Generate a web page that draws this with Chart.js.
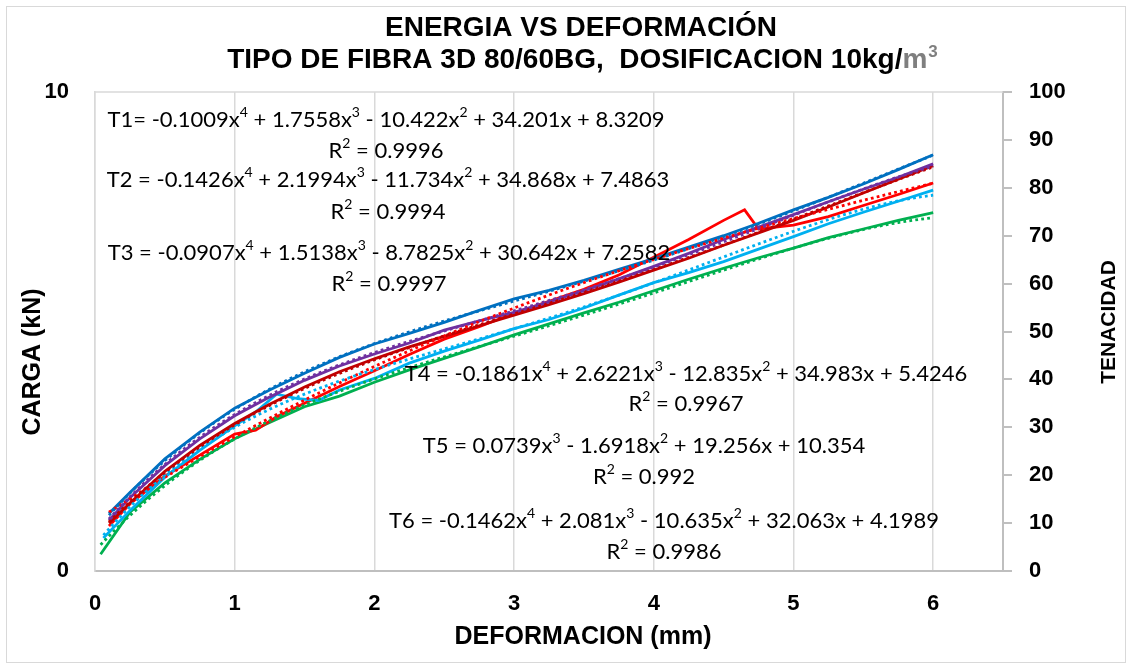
<!DOCTYPE html>
<html><head><meta charset="utf-8">
<script src="https://cdn.jsdelivr.net/npm/chart.js@4/dist/chart.umd.min.js"></script>
<style>html,body{margin:0;padding:0;background:#fff}</style>
</head><body>
<canvas id="c" width="1132" height="669"></canvas>
<script>
// ---- data ----
const seriesNames = ['T1','T2','T3','T4','T5','T6'];
const xT1 = [0.1,0.25,0.5,0.75,1,1.25,1.5,1.75,2,2.25,2.5,2.75,3,3.25,3.5,3.75,4,4.25,4.5,4.75,5,5.25,5.5,5.75,6];
const yT1 = [12.0,16.4,23.4,29.0,34.0,37.8,41.3,44.6,47.4,49.6,51.9,54.4,56.8,58.6,60.7,63.0,65.2,67.6,70.0,72.6,75.4,78.0,80.8,83.8,86.9];
const xT2 = [0.1,0.25,0.5,0.75,1,1.25,1.5,1.75,2,2.25,2.5,2.75,3,3.25,3.5,3.75,4,4.25,4.5,4.75,5,5.25,5.5,5.75,6];
const yT2 = [10.6,15.3,22.0,27.6,32.4,36.3,39.8,42.8,45.3,47.6,50.3,52.2,54.0,56.2,58.5,61.0,63.6,66.3,69.2,71.8,74.4,77.1,79.7,82.2,85.0];
const xT3 = [0.1,0.25,0.5,0.75,1,1.25,1.5,1.75,2,2.25,2.5,2.75,3,3.25,3.5,3.75,4,4.25,4.5,4.75,5,5.25,5.5,5.75,6];
const yT3 = [10.0,14.2,20.8,26.2,30.8,34.8,38.4,41.6,44.3,46.8,49.0,51.2,53.4,55.6,57.9,60.3,62.8,65.3,68.0,70.6,73.2,76.0,78.9,81.8,84.6];
const xT4 = [0.06,0.25,0.5,0.75,1,1.15,1.3,1.45,1.6,1.75,2,2.25,2.5,2.75,3,3.25,3.5,3.75,4,4.25,4.5,4.75,5,5.25,5.5,5.75,6];
const yT4 = [6.9,12.6,19.6,25.2,30.3,33.2,36.9,36.0,35.6,37.8,40.2,43.4,45.9,48.2,50.6,52.5,54.9,57.6,60.2,62.3,64.6,67.2,69.8,72.5,74.9,77.2,79.5];
const xT5 = [0.1,0.25,0.5,0.75,1,1.15,1.3,1.5,1.75,2,2.25,2.5,2.75,3,3.25,3.5,3.75,4,4.25,4.5,4.65,4.75,5,5.25,5.5,5.75,6];
const yT5 = [9.4,14.0,19.8,24.2,28.6,29.4,32.2,35.0,38.5,41.8,45.2,48.4,51.0,53.8,56.3,58.8,61.8,65.5,69.2,73.2,75.4,71.4,72.2,74.0,76.3,78.6,81.0];
const xT6 = [0.04,0.25,0.5,0.75,1,1.25,1.5,1.75,2,2.25,2.5,2.75,3,3.25,3.5,3.75,4,4.25,4.5,4.75,5,5.25,5.5,5.75,6];
const yT6 = [3.5,12.3,18.4,23.3,27.6,31.0,34.3,36.5,39.4,42.0,44.4,46.8,49.3,51.6,53.9,56.1,58.5,60.9,63.2,65.4,67.4,69.6,71.4,73.2,74.8];
// trendline coefficients as printed (constant, x, x^2, x^3, x^4)
const coefT1 = [8.3209, 34.201, -10.422, 1.7558, -0.1009];
const coefT2 = [7.4863, 34.868, -11.734, 2.1994, -0.1426];
const coefT3 = [7.2582, 30.642, -8.7825, 1.5138, -0.0907];
const coefT4 = [5.4246, 34.983, -12.835, 2.6221, -0.1861];
const coefT5 = [10.354, 19.256, -1.6918, 0.0739, 0];
const coefT6 = [4.1989, 32.063, -10.635, 2.081, -0.1462];
const eqTexts = [
  ['T1= -0.1009x⁴ + 1.7558x³ - 10.422x² + 34.201x + 8.3209','R² = 0.9996'],
  ['T2 = -0.1426x⁴ + 2.1994x³ - 11.734x² + 34.868x + 7.4863','R² = 0.9994'],
  ['T3 = -0.0907x⁴ + 1.5138x³ - 8.7825x² + 30.642x + 7.2582','R² = 0.9997'],
  ['T4 = -0.1861x⁴ + 2.6221x³ - 12.835x² + 34.983x + 5.4246','R² = 0.9967'],
  ['T5 = 0.0739x³ - 1.6918x² + 19.256x + 10.354','R² = 0.992'],
  ['T6 = -0.1462x⁴ + 2.081x³ - 10.635x² + 32.063x + 4.1989','R² = 0.9986']
];
const xTicks = [0,1,2,3,4,5,6];
const xValues = [xT1,xT2,xT3,xT4,xT5,xT6];
const yValues = [yT1,yT2,yT3,yT4,yT5,yT6];
const coefs = [coefT1,coefT2,coefT3,coefT4,coefT5,coefT6];
const colors = ['#0070C0','#7030A0','#C00000','#00B0F0','#FF0000','#00B050'];

// ---- build datasets ----
const datasets = [];
function poly(c, x){ let s=0; for(let i=c.length-1;i>=0;i--) s = s*x + c[i]; return s; }
for (let k=0;k<6;k++){
  const xs = xValues[k];
  const x0 = xs[0], x1 = xs[xs.length-1];
  const trend = [];
  const n = 120;
  for (let i=0;i<=n;i++){ const x = x0 + (x1-x0)*i/n; trend.push({x, y: poly(coefs[k], x)}); }
  datasets.push({label: seriesNames[k]+' tendencia', data: trend, yAxisID:'y2', showLine:true, pointRadius:0,
    borderColor: colors[k], borderWidth:2.8, borderDash:[2.8,3.2], fill:false});
}
for (let k=0;k<6;k++){
  const xs = xValues[k], ys = yValues[k];
  datasets.push({label: seriesNames[k], data: xs.map((x,i)=>({x, y: ys[i]})), yAxisID:'y2', showLine:true, pointRadius:0,
    borderColor: colors[k], borderWidth:2.8, fill:false, tension:0});
}

const tickFont = {family:'"Liberation Sans", Arial, sans-serif', size:22, weight:'bold'};

const SUP = {'⁴':'4','³':'3','²':'2'};
function richText(ctx, text, cx, cy, size, family){
  const segs = [];
  let cur = '';
  for (const ch of text){
    if (SUP[ch]){ if (cur) segs.push({t:cur, s:false}); cur=''; segs.push({t:SUP[ch], s:true}); }
    else cur += ch;
  }
  if (cur) segs.push({t:cur, s:false});
  const fN = size + 'px ' + family, fS = Math.round(size*0.62) + 'px ' + family;
  let total = 0;
  for (const g of segs){ ctx.font = g.s ? fS : fN; g.w = ctx.measureText(g.t).width; total += g.w; }
  let x = cx - total/2;
  ctx.textAlign = 'left';
  for (const g of segs){
    ctx.font = g.s ? fS : fN;
    ctx.fillText(g.t, x, g.s ? cy - size*0.33 : cy);
    x += g.w;
  }
}

const textPlugin = {
  id:'texts',
  beforeDatasetsDraw(chart){
    const {ctx, chartArea:a} = chart;
    ctx.save();
    ctx.strokeStyle = '#d9d9d9'; ctx.lineWidth = 1.5;
    ctx.beginPath(); ctx.moveTo(a.left, a.top); ctx.lineTo(a.right, a.top); ctx.stroke();
    ctx.restore();
  },
  afterDraw(chart){
    const ctx = chart.ctx;
    ctx.save();
    // outer border
    ctx.strokeStyle = '#d9d9d9'; ctx.lineWidth = 1;
    ctx.strokeRect(6.5, 6.5, 1119, 656);
    // title
    ctx.fillStyle = '#000';
    ctx.textBaseline = 'middle';
    ctx.font = 'bold 28px "Liberation Sans", Arial, sans-serif';
    ctx.textAlign = 'center';
    ctx.fillText('ENERGIA VS DEFORMACIÓN', 581, 28);
    const p1 = 'TIPO DE FIBRA 3D 80/60BG,  DOSIFICACION 10kg/', p2 = 'm';
    const w1 = ctx.measureText(p1).width, w2 = ctx.measureText(p2).width;
    ctx.font = 'bold 17px "Liberation Sans", Arial, sans-serif';
    const w3 = ctx.measureText('3').width;
    let sx = 582 - (w1+w2+w3)/2;
    ctx.textAlign = 'left';
    ctx.font = 'bold 28px "Liberation Sans", Arial, sans-serif';
    ctx.fillText(p1, sx, 60);
    ctx.fillStyle = '#7f7f7f';
    ctx.fillText(p2, sx + w1, 60);
    ctx.font = 'bold 17px "Liberation Sans", Arial, sans-serif';
    ctx.fillText('3', sx + w1 + w2 + 1, 52);
    // axis titles
    ctx.fillStyle = '#000';
    ctx.textAlign = 'center';
    ctx.font = 'bold 25px "Liberation Sans", Arial, sans-serif';
    ctx.fillText('DEFORMACION (mm)', 583, 637);
    ctx.save(); ctx.translate(33, 362); ctx.rotate(-Math.PI/2); ctx.fillText('CARGA (kN)', 0, 0); ctx.restore();
    ctx.font = 'bold 21px "Liberation Sans", Arial, sans-serif';
    ctx.save(); ctx.translate(1109, 322); ctx.rotate(-Math.PI/2); ctx.fillText('TENACIDAD', 0, 0); ctx.restore();
    // trendline equations
    const fam = 'Lato, "Open Sans", sans-serif';
    const pos = [[386,120,151],[388,180,212],[389,253,284],[686,374,404],[644,446,477],[664,521,552]];
    for (let k=0;k<6;k++){
      richText(ctx, eqTexts[k][0], pos[k][0], pos[k][1], 22, fam);
      richText(ctx, eqTexts[k][1], pos[k][0], pos[k][2], 22, fam);
    }
    ctx.restore();
  }
};

new Chart(document.getElementById('c'), {
  type:'scatter',
  data:{datasets},
  options:{
    responsive:false, animation:false, devicePixelRatio:1,
    layout:{padding:{left:10,right:10,top:92,bottom:10}},
    plugins:{legend:{display:false}, tooltip:{enabled:false}, title:{display:false}},
    scales:{
      x:{type:'linear', min:0, max:6.5,
         afterBuildTicks(s){ s.ticks = xTicks.map(v=>({value:v})); },
         ticks:{font:tickFont, color:'#000', padding:20, maxRotation:0},
         grid:{color:'#d9d9d9', lineWidth:1.5, drawTicks:false},
         border:{color:'#bfbfbf', width:2},
         afterFit(s){ s.height = 88; }},
      y:{position:'left', min:0, max:10,
         ticks:{stepSize:10, font:tickFont, color:'#000', padding:18},
         grid:{display:false},
         border:{color:'#d9d9d9', width:1.5},
         afterFit(s){ s.width = 85; }},
      y2:{position:'right', min:0, max:100,
         ticks:{stepSize:10, font:tickFont, color:'#000', padding:17},
         grid:{drawOnChartArea:false, tickLength:9, color:'#bfbfbf', lineWidth:2},
         border:{color:'#bfbfbf', width:2},
         afterFit(s){ s.width = 119; }}
    }
  },
  plugins:[textPlugin]
});
</script>
</body></html>
